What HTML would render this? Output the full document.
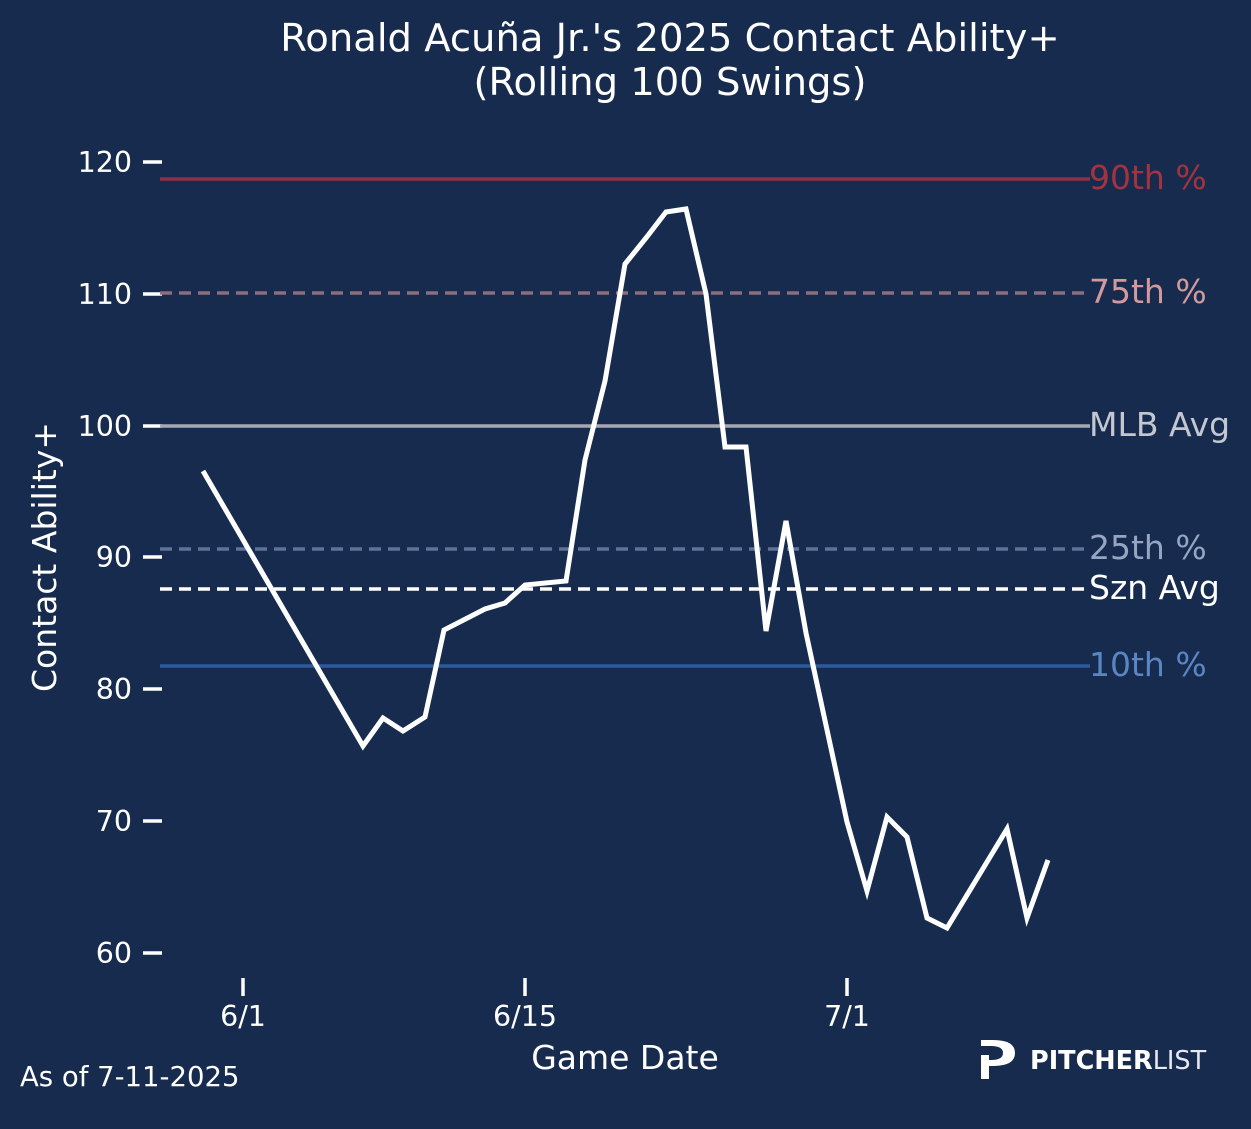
<!DOCTYPE html>
<html><head><meta charset="utf-8"><style>
html,body{margin:0;padding:0;background:#172b4f;}
svg{display:block;}
text{font-family:"DejaVu Sans","Liberation Sans",sans-serif;}
</style></head><body>
<svg width="1251" height="1129" viewBox="0 0 1251 1129" xmlns="http://www.w3.org/2000/svg">
<rect width="1251" height="1129" fill="#172b4f"/>
<text x="670" y="51" fill="#fff" font-size="38.5" text-anchor="middle">Ronald Acuña Jr.'s 2025 Contact Ability+</text>
<text x="670" y="95" fill="#fff" font-size="38.5" text-anchor="middle">(Rolling 100 Swings)</text>
<g stroke="#fff" stroke-width="3.5">
<line x1="143" y1="162" x2="162" y2="162"/><line x1="143" y1="294" x2="162" y2="294"/>
<line x1="143" y1="426" x2="162" y2="426"/><line x1="143" y1="557" x2="162" y2="557"/>
<line x1="143" y1="689" x2="162" y2="689"/><line x1="143" y1="821" x2="162" y2="821"/>
<line x1="143" y1="953" x2="162" y2="953"/>
<line x1="243" y1="978" x2="243" y2="996"/><line x1="525" y1="978" x2="525" y2="996"/><line x1="847" y1="978" x2="847" y2="996"/>
</g>
<g fill="#fff" font-size="28.5" text-anchor="end">
<text x="132" y="172">120</text><text x="132" y="304">110</text><text x="132" y="436">100</text>
<text x="132" y="567">90</text><text x="132" y="699">80</text><text x="132" y="831">70</text><text x="132" y="963">60</text>
</g>
<g fill="#fff" font-size="28.5" text-anchor="middle">
<text x="243" y="1026">6/1</text><text x="525" y="1026">6/15</text><text x="847" y="1026">7/1</text>
</g>
<text x="625" y="1069" fill="#fff" font-size="33" text-anchor="middle">Game Date</text>
<text transform="translate(56,557) rotate(-90)" fill="#fff" font-size="33" text-anchor="middle">Contact Ability+</text>
<line x1="160" y1="179" x2="1090" y2="179" stroke="#8a3342" stroke-width="3.5"/>
<line x1="160" y1="293" x2="1090" y2="293" stroke="#8c6e7c" stroke-width="3.5" stroke-dasharray="12,7"/>
<line x1="160" y1="426" x2="1090" y2="426" stroke="#a6a9b3" stroke-width="3.5"/>
<line x1="160" y1="549" x2="1090" y2="549" stroke="#5d7398" stroke-width="3.5" stroke-dasharray="12,7"/>
<line x1="160" y1="589" x2="1090" y2="589" stroke="#fff" stroke-width="3.5" stroke-dasharray="12,7"/>
<line x1="160" y1="666" x2="1090" y2="666" stroke="#2d5a9c" stroke-width="3.5"/>
<g font-size="33">
<text x="1089" y="189" fill="#a3343e">90th %</text>
<text x="1089" y="303" fill="#d29a9c">75th %</text>
<text x="1089" y="436" fill="#c3c7d0">MLB Avg</text>
<text x="1089" y="559" fill="#96a6c2">25th %</text>
<text x="1089" y="599" fill="#fff">Szn Avg</text>
<text x="1089" y="676" fill="#5b86c4">10th %</text>
</g>
<polyline fill="none" stroke="#fff" stroke-width="5" stroke-linejoin="miter" points="203,471 363,746 383,718 403,731 425,717 444,630 485,609 505,603 525,585 566,581 585,460 605,381 625,264 646,238 666,212 686,209 706,294 725,447 746,447 766,631 786,521 806,633 847,822 867,891 887,817 907,837 927,918 947,928 1007,829 1027,918 1048,860"/>
<text x="20" y="1086" fill="#fff" font-size="27.5">As of 7-11-2025</text>
<path d="M981,1040 h12 q22,0 22,13 q0,13 -22,13 h-4 v-6 h2 q12,0 12,-7 q0,-7 -12,-7 h-10 z M981,1055 h8 v24 h-8 z" fill="#fff"/>
<text x="1030" y="1069" fill="#fff" font-size="25.5" font-weight="bold">PITCHER<tspan font-weight="normal" fill="#e6e9ef">LIST</tspan></text>
</svg>
</body></html>
